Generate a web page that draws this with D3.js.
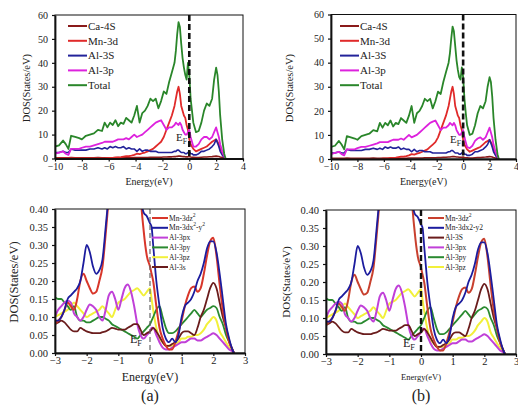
<!DOCTYPE html>
<html>
<head>
<meta charset="utf-8">
<script src="https://cdn.jsdelivr.net/npm/d3@7"></script>
<style>
  html, body { margin: 0; padding: 0; background: #fff; }
  svg text { font-family: "Liberation Serif", "DejaVu Serif", serif; fill: #222; }
</style>
</head>
<body>
<svg id="chart" width="518" height="405"></svg>
<script>
// ---------- Total / projected DOS, wide energy window (panel a, top) ----------
const eA = [-10,-9.7,-9.4,-9.2,-9,-8.8,-8.5,-8.2,-8,-7.7,-7.4,-7.1,-6.8,-6.5,-6.3,-6.1,-5.9,-5.7,-5.5,-5.3,-5.1,-4.9,-4.7,-4.5,-4.3,-4.1,-3.9,-3.7,-3.5,-3.3,-3.1,-2.9,-2.7,-2.5,-2.3,-2.1,-1.9,-1.7,-1.5,-1.3,-1.1,-1,-0.9,-0.8,-0.7,-0.6,-0.5,-0.4,-0.3,-0.2,-0.1,0,0.1,0.2,0.3,0.5,0.7,0.9,1.1,1.3,1.5,1.7,1.85,2,2.1,2.2,2.3,2.45,2.6,2.7];
const totalA = [5,5.5,7.5,6,4,9.5,9,8.5,8,9.5,10,10.5,12,11.5,15,13,15,14,16,13.5,15,14.5,17,16,15,18,22,15,19,20,22,25,24,25,21,24,28,27,32,36,40,45,52,57,55,48,42,38,35,33,40,35,25,20,15,11,11.5,15,20,23,22,25,33,38,35,28,18,8,2,0];
const mn3dA = [0,0,0,0,0,0,0,0,0,0,0,0,0,0,0,0.2,0.3,0.3,0.5,0.5,0.6,0.8,1,1,1.2,1.5,2,1.8,2.2,2.5,3,3.5,4,5,6,7,9,12,15,18,22,25,28,30,27,22,20,18,17,14,12,8,6,5,4,3,3.5,4,4.5,5,6,7,7.5,8,7,6,4,2,0.5,0];
const al3sA = [2.5,2.5,3,2.5,2.5,4,3.5,3.5,3.5,3.5,4,4,4.5,4,4.5,4,5,4.5,5,4.5,4.5,5,4,4.5,4,4,3,4,3,3.5,3.5,3,3,3,2.5,2.5,2.5,2.5,2.5,2.5,3,3,3.5,3.5,3,2.5,2.5,2.5,2,2,2.5,3,2,2,1.5,1.5,2,3,3,3.5,4,5,6,8,6.5,5,3,1.5,0.5,0];
const al3pA = [2,2.5,3,2,1.5,4,4,4,4.5,5,5,5.5,6,6.5,7,7,7,7,7.5,8,8,8,8.5,8,9,10,9,9.5,10,11,12,13,14,15,15.5,16,14,12,13,13,14,15,14.5,14,15,14,12,11,10,10,11,12,9,7,5,5,6,8,9,9,8,9,11,13,11,9,6,3,1,0];
const ca4sA = [0.3,0.3,0.3,0.3,0.3,0.4,0.3,0.3,0.3,0.3,0.3,0.3,0.4,0.3,0.3,0.3,0.3,0.3,0.3,0.4,0.3,0.3,0.3,0.3,0.3,0.4,0.4,0.4,0.4,0.4,0.4,0.5,0.5,0.5,0.5,0.5,0.6,0.6,0.7,0.7,0.8,0.8,0.9,1,1,0.9,0.8,0.8,0.7,0.7,0.7,0.8,0.6,0.5,0.5,0.4,0.4,0.5,0.6,0.6,0.7,0.8,0.9,1,0.9,0.8,0.6,0.4,0.2,0];

// ---------- panel b, top ----------
const totalB = [5,5.5,7.5,6,4,9.5,9,8.5,8,9.5,10,10.5,12,11.5,15,13,15,14,16,13.5,15,14.5,17,16,15,18,22,15,19,20,22,25,24,25,21,24,28,27,32,36,40,44,50,55,53,47,41,37,34,33,38,34,25,19,14,10,10.5,14,19,22,21,24,30,34,32,26,17,8,2,0];
const mn3dB = mn3dA.slice();
const al3sB = al3sA.slice();
const al3pB = [2,2.5,3,2,1.5,4,4,4,4.5,5,5,5.5,6,6.5,7,7,7,7,7.5,8,8,8,8.5,8,9,10,9,9.5,10,11,12,13,14,15,15.5,16,14,12,13,13,14,15,14.5,14,15,14,12,11,10,10,11,12,9,7,5,4.5,5.5,7.5,8.5,9,8,9,11,13,11,9,6,3,1,0];
const ca4sB = ca4sA.slice();

const topKeys = ["Ca-4S", "Mn-3d", "Al-3S", "Al-3p", "Total"];
const topTicksX = [-10, -8, -6, -4, -2, 0, 2, 4];
const topTicksY = [0, 10, 20, 30, 40, 50, 60];

// ---------- orbital-resolved DOS near the Fermi level (bottom panels) ----------
const eN = [-3,-2.9,-2.8,-2.7,-2.6,-2.5,-2.4,-2.3,-2.2,-2.1,-2,-1.9,-1.8,-1.7,-1.6,-1.5,-1.4,-1.3,-1.2,-1.1,-1,-0.9,-0.8,-0.7,-0.6,-0.5,-0.4,-0.3,-0.2,-0.1,0,0.05,0.1,0.2,0.3,0.4,0.5,0.6,0.7,0.8,0.9,1,1.1,1.2,1.3,1.4,1.5,1.6,1.7,1.8,1.9,2,2.1,2.2,2.3,2.4,2.5,2.6,2.65];
const mnZ2 = [0.08,0.09,0.10,0.12,0.14,0.13,0.12,0.15,0.20,0.22,0.20,0.18,0.165,0.17,0.20,0.24,0.33,0.44,0.6,0.8,1.0,1.2,1.4,1.5,1.3,1.0,0.7,0.45,0.34,0.27,0.24,0.22,0.20,0.13,0.07,0.04,0.02,0.01,0.01,0.03,0.06,0.09,0.13,0.16,0.18,0.185,0.17,0.18,0.22,0.27,0.31,0.32,0.27,0.19,0.12,0.07,0.03,0.01,0];
const mnX2Y2 = [0.09,0.09,0.10,0.12,0.15,0.16,0.17,0.18,0.20,0.25,0.30,0.28,0.24,0.22,0.23,0.26,0.35,0.45,0.6,0.8,1.0,1.2,1.3,1.4,1.3,1.1,0.8,0.45,0.39,0.38,0.36,0.35,0.30,0.20,0.13,0.07,0.04,0.03,0.04,0.03,0.05,0.10,0.13,0.14,0.15,0.17,0.20,0.22,0.25,0.29,0.31,0.31,0.28,0.22,0.15,0.08,0.04,0.01,0];
const al3px = [0.10,0.12,0.13,0.14,0.145,0.14,0.11,0.10,0.09,0.10,0.12,0.135,0.13,0.12,0.10,0.09,0.12,0.16,0.17,0.15,0.12,0.15,0.18,0.19,0.17,0.13,0.08,0.05,0.04,0.05,0.06,0.07,0.07,0.05,0.03,0.015,0.01,0.01,0.015,0.02,0.025,0.03,0.03,0.035,0.04,0.04,0.035,0.035,0.04,0.045,0.05,0.055,0.05,0.04,0.03,0.02,0.01,0.005,0];
const al3py = [0.155,0.15,0.15,0.14,0.13,0.12,0.13,0.10,0.09,0.09,0.085,0.085,0.09,0.095,0.10,0.10,0.095,0.09,0.08,0.075,0.07,0.065,0.06,0.055,0.05,0.045,0.04,0.05,0.06,0.07,0.08,0.09,0.10,0.12,0.13,0.10,0.07,0.055,0.055,0.06,0.07,0.08,0.09,0.10,0.11,0.12,0.11,0.10,0.11,0.12,0.125,0.13,0.125,0.10,0.08,0.05,0.03,0.01,0];
const al3pz = [0.10,0.105,0.11,0.115,0.12,0.13,0.14,0.13,0.12,0.11,0.10,0.105,0.11,0.115,0.12,0.13,0.12,0.11,0.10,0.12,0.14,0.145,0.15,0.16,0.17,0.175,0.18,0.17,0.16,0.17,0.18,0.15,0.12,0.07,0.04,0.03,0.02,0.02,0.02,0.025,0.03,0.04,0.04,0.045,0.045,0.05,0.05,0.055,0.065,0.08,0.09,0.10,0.09,0.06,0.045,0.03,0.015,0.005,0];
const al3s = [0.08,0.085,0.09,0.085,0.075,0.065,0.06,0.06,0.07,0.065,0.06,0.057,0.055,0.055,0.055,0.058,0.06,0.065,0.07,0.068,0.065,0.065,0.065,0.07,0.075,0.08,0.08,0.065,0.05,0.055,0.06,0.065,0.07,0.06,0.045,0.03,0.02,0.02,0.025,0.03,0.04,0.055,0.06,0.06,0.055,0.05,0.07,0.10,0.12,0.15,0.18,0.195,0.18,0.14,0.10,0.07,0.035,0.01,0];

const botTicksX = [-3, -2, -1, 0, 1, 2, 3];
const botTicksY = [0, 0.05, 0.10, 0.15, 0.20, 0.25, 0.30, 0.35, 0.40];

const svg = d3.select("#chart");

function panel(cfg) {
  const x = d3.scaleLinear().domain(cfg.xDomain).range([cfg.left, cfg.right]);
  const y = d3.scaleLinear().domain(cfg.yDomain).range([cfg.bottom, cfg.top]);
  const g = svg.append("g");
  const clipId = "clip" + cfg.id;
  svg.append("clipPath").attr("id", clipId).append("rect")
    .attr("x", cfg.left).attr("y", cfg.top)
    .attr("width", cfg.right - cfg.left).attr("height", cfg.bottom - cfg.top);

  const line = d3.line().x(d => x(d[0])).y(d => y(d[1])).curve(cfg.curve || d3.curveLinear);
  const plot = g.append("g").attr("clip-path", `url(#${clipId})`);
  cfg.series.forEach(s => {
    plot.append("path")
      .datum(cfg.energy.map((e, i) => [e, s.values[i]]))
      .attr("fill", "none").attr("stroke", s.color)
      .attr("stroke-width", s.width || 1.6)
      .attr("stroke-linejoin", "round")
      .attr("d", line);
  });

  // Fermi level
  g.append("line")
    .attr("x1", x(0)).attr("x2", x(0))
    .attr("y1", cfg.top).attr("y2", cfg.bottom)
    .attr("stroke", cfg.fermiColor || "#111")
    .attr("stroke-width", cfg.fermiWidth || 2.4)
    .attr("stroke-dasharray", cfg.fermiDash || "6,3");

  // frame
  g.append("rect").attr("x", cfg.left).attr("y", cfg.top)
    .attr("width", cfg.right - cfg.left).attr("height", cfg.bottom - cfg.top)
    .attr("fill", "none").attr("stroke", "#111").attr("stroke-width", 1);

  const xAxis = g.append("g").attr("transform", `translate(0,${cfg.bottom})`)
    .call(d3.axisBottom(x).tickValues(cfg.xTicks).tickSize(3).tickSizeOuter(0).tickFormat(d3.format("d")));
  const yAxis = g.append("g").attr("transform", `translate(${cfg.left},0)`)
    .call(d3.axisLeft(y).tickValues(cfg.yTicks).tickSize(3).tickSizeOuter(0).tickFormat(cfg.yFormat));
  [xAxis, yAxis].forEach(a => {
    a.select(".domain").attr("stroke", "#111").attr("stroke-width", 1.8);
    a.selectAll(".tick line").attr("stroke", "#111").attr("stroke-width", 1.2);
    a.selectAll("text").style("font-family", "Liberation Serif, serif")
      .style("font-size", cfg.tickFont + "px").attr("fill", "#222");
  });
  xAxis.selectAll("text").attr("y", 4);
  yAxis.selectAll("text").attr("dx", "-0.1em");

  g.append("text").attr("x", (cfg.left + cfg.right) / 2).attr("y", cfg.xTitleY)
    .attr("text-anchor", "middle").style("font-size", cfg.xTitleFont + "px")
    .text("Energy(eV)");
  g.append("text")
    .attr("transform", `translate(${cfg.yTitleX},${cfg.yTitleCY}) rotate(-90)`)
    .attr("text-anchor", "middle").style("font-size", cfg.yTitleFont + "px")
    .text("DOS(States/eV)");

  // E_F label
  const ef = g.append("text").attr("x", cfg.efX).attr("y", cfg.efY)
    .style("font-size", cfg.efFont + "px");
  ef.append("tspan").text("E");
  ef.append("tspan").attr("dy", 3).style("font-size", (cfg.efFont * 0.7) + "px").text("F");

  // legend
  const lg = g.append("g");
  cfg.legend.forEach((item, i) => {
    const yy = cfg.legY + i * cfg.legStep;
    lg.append("line").attr("x1", cfg.legX).attr("x2", cfg.legX + cfg.legLen)
      .attr("y1", yy).attr("y2", yy).attr("stroke", item.color).attr("stroke-width", cfg.legWidth);
    const t = lg.append("text").attr("x", cfg.legX + cfg.legLen + 1).attr("y", yy)
      .attr("dy", "0.35em").style("font-size", cfg.legFont + "px");
    item.label.forEach(part => {
      const sp = t.append("tspan").text(part.t);
      if (part.sup) sp.attr("dy", -4).style("font-size", (cfg.legFont * 0.75) + "px");
      if (part.down) sp.attr("dy", 4);
    });
  });
}

const cCa = "#8a1a1a", cMn = "#e02a2a", cAlS = "#23239a", cAlP = "#dd22dd", cTot = "#2a862a";

function topPanel(id, left, right, top, bottom, data, ef, legX, yTitleX) {
  panel({
    id, left, right, top, bottom,
    xDomain: [-10, 4], yDomain: [0, 60], energy: eA,
    xTicks: topTicksX, yTicks: topTicksY, yFormat: d3.format("d"),
    series: [
      { values: data[0], color: cCa, width: 1.6 },
      { values: data[1], color: cMn, width: 1.8 },
      { values: data[2], color: cAlS, width: 1.6 },
      { values: data[3], color: cAlP, width: 1.8 },
      { values: data[4], color: cTot, width: 1.8 }
    ],
    fermiWidth: 2.6, fermiDash: "6,3",
    tickFont: 10, xTitleY: 185, xTitleFont: 10, yTitleX, yTitleCY: 88, yTitleFont: 10.5,
    efX: ef[0], efY: ef[1], efFont: 11,
    legend: topKeys.map((k, i) => ({ label: [{ t: k }], color: [cCa, cMn, cAlS, cAlP, cTot][i] })),
    legX, legY: 26, legStep: 14.8, legLen: 19, legWidth: 2, legFont: 11
  });
}

topPanel("tl", 55, 243, 15, 158.5, [ca4sA, mn3dA, al3sA, al3pA, totalA], [176, 141], 68, 30);
topPanel("tr", 331, 516, 14.5, 159, [ca4sB, mn3dB, al3sB, al3pB, totalB], [450, 143], 340, 293);

const cZ2 = "#d8362a", cX2 = "#1c1c9e", cPx = "#c040d8", cPy = "#2a8a30", cPz = "#f2f03a", cS = "#6a1c1c";

function bottomPanel(id, left, right, top, bottom, opts) {
  panel({
    id, left, right, top, bottom,
    xDomain: [-3, 3], yDomain: [0, 0.40], energy: eN, curve: d3.curveMonotoneX,
    xTicks: botTicksX, yTicks: botTicksY, yFormat: d3.format(".2f"),
    series: [
      { values: al3pz, color: cPz, width: 2 },
      { values: al3py, color: cPy, width: 1.8 },
      { values: al3px, color: cPx, width: 2 },
      { values: al3s, color: cS, width: 1.8 },
      { values: mnZ2, color: opts.z2Color, width: 2 },
      { values: mnX2Y2, color: cX2, width: 1.8 }
    ],
    fermiWidth: opts.fermiWidth, fermiColor: opts.fermiColor, fermiDash: opts.fermiDash,
    tickFont: 10.5, xTitleY: opts.xTitleY, xTitleFont: opts.xTitleFont,
    yTitleX: opts.yTitleX, yTitleCY: 282, yTitleFont: opts.yTitleFont,
    efX: opts.ef[0], efY: opts.ef[1], efFont: 12,
    legend: opts.legend,
    legX: opts.legX, legY: 218, legStep: 9.8, legLen: 16, legWidth: 2, legFont: 7.5
  });
  svg.append("text").attr("x", (left + right) / 2).attr("y", 401)
    .attr("text-anchor", "middle").style("font-size", "16px").text(opts.tag);
}

bottomPanel("bl", 55, 245, 209, 353, {
  z2Color: cZ2, fermiWidth: 1.2, fermiColor: "#666", fermiDash: "5,3",
  xTitleY: 381, xTitleFont: 12, yTitleX: 18, yTitleFont: 12.5, ef: [130, 343], legX: 152, tag: "(a)",
  legend: [
    { label: [{ t: "Mn-3dz" }, { t: "2", sup: true }], color: cZ2 },
    { label: [{ t: "Mn-3dx" }, { t: "2", sup: true }, { t: "-y", down: true }, { t: "2", sup: true }], color: cX2 },
    { label: [{ t: "Al-3px" }], color: cPx },
    { label: [{ t: "Al-3py" }], color: cPy },
    { label: [{ t: "Al-3pz" }], color: cPz },
    { label: [{ t: "Al-3s" }], color: cS }
  ]
});

bottomPanel("br", 326, 516, 210, 354, {
  z2Color: "#c8402e", fermiWidth: 2.4, fermiColor: "#111", fermiDash: "6,3",
  xTitleY: 380, xTitleFont: 8.5, yTitleX: 290, yTitleFont: 11, ef: [403, 347], legX: 428, tag: "(b)",
  legend: [
    { label: [{ t: "Mn-3dz" }, { t: "2", sup: true }], color: "#c8402e" },
    { label: [{ t: "Mn-3dx2-y2" }], color: cX2 },
    { label: [{ t: "Al-3S" }], color: cS },
    { label: [{ t: "Al-3px" }], color: cPx },
    { label: [{ t: "Al-3py" }], color: cPy },
    { label: [{ t: "Al-3pz" }], color: cPz }
  ]
});
</script>
</body>
</html>
